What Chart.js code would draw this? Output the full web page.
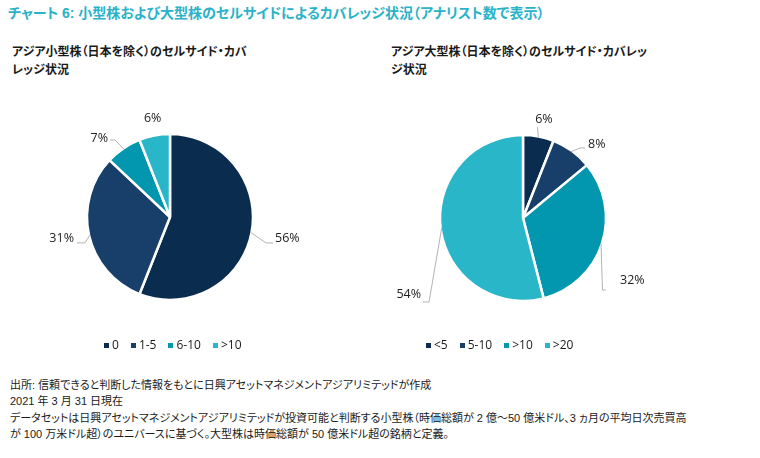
<!DOCTYPE html>
<html lang="ja">
<head>
<meta charset="utf-8">
<script src="https://cdn.jsdelivr.net/npm/chart.js@4.4.1/dist/chart.umd.min.js"></script>
<style>
  body { margin: 0; background: #fff; }
  #page { position: relative; width: 760px; height: 458px; overflow: hidden;
    font-family: "Liberation Sans", "Noto Sans CJK JP", sans-serif; color: #1a1a1a;
    font-feature-settings: "palt"; }
  #title { position: absolute; left: 8px; top: 4px; font-size: 14px; line-height: 18px;
    font-weight: bold; color: #29b2c8; white-space: nowrap; }
  .sub { position: absolute; top: 43px; font-size: 12px; line-height: 18px; font-weight: bold;
    white-space: nowrap; }
  canvas { position: absolute; }
  .legend { position: absolute; top: 337px; display: flex; font-family: "Open Sans", sans-serif;
    font-size: 12px; line-height: 16px; white-space: nowrap; }
  .legend span.item { display: flex; align-items: center; margin-right: 12px; }
  .legend i { display: inline-block; width: 5px; height: 5px; margin-right: 3px; }
  #foot { position: absolute; left: 10px; top: 377px; font-size: 11px; line-height: 16.3px;
    white-space: nowrap; }
</style>
</head>
<body>
<div id="page">
  <div id="title">チャート 6: 小型株および大型株のセルサイドによるカバレッジ状況（アナリスト数で表示）</div>
  <div class="sub" style="left:12px">アジア小型株（日本を除く）のセルサイド・カバ<br>レッジ状況</div>
  <div class="sub" style="left:391px">アジア大型株（日本を除く）のセルサイド・カバレッ<br>ジ状況</div>
  <canvas id="smallChart" width="340" height="254" style="left:0px;top:90px"></canvas>
  <canvas id="largeChart" width="280" height="254" style="left:383px;top:91px"></canvas>
  <div class="legend" id="smallLegend" style="left:104px"></div>
  <div class="legend" id="largeLegend" style="left:426px"></div>
  <div id="foot">出所: 信頼できると判断した情報をもとに日興アセットマネジメントアジアリミテッドが作成<br>2021 年 3 月 31 日現在<br>データセットは日興アセットマネジメントアジアリミテッドが投資可能と判断する小型株（時価総額が 2 億～50 億米ドル、3 ヵ月の平均日次売買高<br>が 100 万米ドル超）のユニバースに基づく。大型株は時価総額が 50 億米ドル超の銘柄と定義。</div>
</div>
<script>
// analyst-count buckets and share of stocks (%)
const smallBuckets = ["0", "1-5", "6-10", ">10"];
const smallShares = [56, 31, 7, 6];
const largeBuckets = ["<5", "5-10", ">10", ">20"];
const largeShares = [6, 8, 32, 54];
const sliceColors = ["#0a2c4f", "#173f6a", "#0297af", "#29b6c9"];

// leader line for each slice label: elbow offset from the arc edge, tail length, text offset from tail end
const smallLabelLayout = [
  { elbow: [15.5, 10.6], tail: 7, text: [2, -5], align: "left", line: true },
  { elbow: [-5, 8], tail: -8, text: [-3, -4], align: "right", line: true },
  { elbow: [-8.9, -9.2], tail: -5, text: [-2, -2], align: "right", line: true },
  { elbow: [-2, -18.5], tail: 0, text: [0, 0], align: "center", line: false }
];
const largeLabelLayout = [
  { elbow: [-0.9, -10.5], tail: 0, text: [6.5, -8], align: "center", line: true },
  { elbow: [8.8, -3.7], tail: 5, text: [3, -4], align: "left", line: true },
  { elbow: [1.5, 46.7], tail: 3.5, text: [14, -10], align: "left", line: true },
  { elbow: [-12.6, 73.7], tail: -6, text: [-2, -8], align: "right", line: true }
];

// draws the % labels outside the pie with grey leader lines
const leaderLabels = {
  id: "leaderLabels",
  afterDatasetsDraw(chart, args, opts) {
    const ctx = chart.ctx;
    const values = chart.data.datasets[0].data;
    ctx.save();
    ctx.font = "12.5px 'Open Sans'";
    ctx.textBaseline = "middle";
    ctx.fillStyle = "#222";
    ctx.strokeStyle = "#b3b3b3";
    ctx.lineWidth = 1;
    chart.getDatasetMeta(0).data.forEach((arc, i) => {
      const p = arc.getProps(["x", "y", "startAngle", "endAngle", "outerRadius"]);
      const mid = (p.startAngle + p.endAngle) / 2;
      const r = p.outerRadius - 1;
      const ex = p.x + Math.cos(mid) * r;
      const ey = p.y + Math.sin(mid) * r;
      const l = opts.layout[i];
      const bx = ex + l.elbow[0];
      const by = ey + l.elbow[1];
      const tx = bx + l.tail;
      if (l.line) {
        ctx.beginPath();
        ctx.moveTo(ex, ey);
        ctx.lineTo(bx, by);
        ctx.lineTo(tx, by);
        ctx.stroke();
      }
      ctx.textAlign = l.align;
      ctx.fillText(values[i] + "%", tx + l.text[0], by + l.text[1]);
    });
    ctx.restore();
  }
};

function makePie(id, labels, values, layout) {
  return new Chart(document.getElementById(id), {
    type: "pie",
    data: {
      labels: labels,
      datasets: [{
        data: values,
        backgroundColor: sliceColors,
        borderColor: "#ffffff",
        borderWidth: 2.5
      }]
    },
    options: {
      responsive: false,
      animation: false,
      radius: 83,
      layout: { padding: 0 },
      plugins: {
        legend: { display: false },
        tooltip: { enabled: false },
        leaderLabels: { layout: layout }
      }
    },
    plugins: [leaderLabels]
  });
}

function makeLegend(id, labels) {
  const box = document.getElementById(id);
  labels.forEach((lab, i) => {
    const item = document.createElement("span");
    item.className = "item";
    const mark = document.createElement("i");
    mark.style.background = sliceColors[i];
    item.appendChild(mark);
    item.appendChild(document.createTextNode(lab));
    box.appendChild(item);
  });
}

makePie("smallChart", smallBuckets, smallShares, smallLabelLayout);
makePie("largeChart", largeBuckets, largeShares, largeLabelLayout);
makeLegend("smallLegend", smallBuckets);
makeLegend("largeLegend", largeBuckets);
</script>
</body>
</html>
